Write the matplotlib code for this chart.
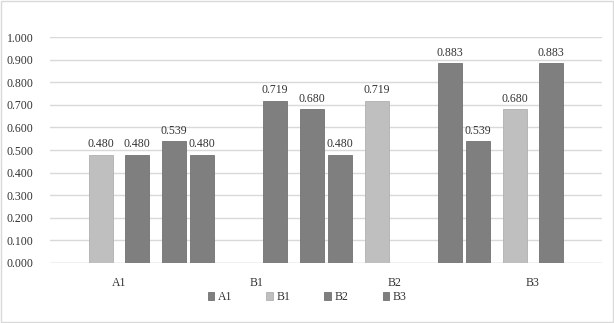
import numpy as np
import matplotlib.pyplot as plt
from matplotlib.patches import Rectangle

categories = ['A1', 'B1', 'B2', 'B3']
series_names = ['A1', 'B1', 'B2', 'B3']
# values per series over the categories (nan = no bar)
a1_vals = [0.480, 0.719, np.nan, 0.883]
b1_vals = [0.480, np.nan, 0.719, 0.680]
b2_vals = [0.539, 0.680, 0.883, np.nan]
b3_vals = [0.480, 0.480, 0.539, np.nan]
y_ticks = [0.0, 0.1, 0.2, 0.3, 0.4, 0.5, 0.6, 0.7, 0.8, 0.9, 1.0]

plt.rcParams['font.family'] = ['Liberation Serif', 'DejaVu Serif']
plt.rcParams['font.size'] = 8.5

fig = plt.figure(figsize=(6.14, 3.23), dpi=100)
ax = fig.add_axes([0.0814, 0.1858, 0.899, 0.6996])

dark = '#7f7f7f'
light = '#bfbfbf'
txt = '#333333'
series = [
	(a1_vals, 0.130, dark, '#727272'),
	(b1_vals, -0.130, light, '#b0b0b0'),
	(b2_vals, 0.399, dark, '#727272'),
	(b3_vals, 0.601, dark, '#727272'),
]

x = np.arange(len(categories))
width = 0.175
for name, (vals, off, col, edge) in zip(series_names, series):
	bars = ax.bar(x + off, vals, width, color=col, edgecolor=edge, linewidth=0.6, label=name, zorder=3)
	ax.bar_label(bars, labels=['' if np.isnan(v) else '{:.3f}'.format(v) for v in vals],
		padding=3, fontsize=8.5, color=txt)

ax.set_xlim(-0.5, len(categories) - 0.5)
ax.set_ylim(0, 1.0)
ax.set_yticks(y_ticks)
ax.set_yticklabels(['{:.3f}'.format(t) for t in y_ticks], color=txt)
ax.set_xticks(x)
ax.set_xticklabels(categories, color=txt)
ax.tick_params(axis='both', length=0, labelsize=8.5)
ax.tick_params(axis='y', pad=12)
ax.tick_params(axis='x', pad=10)
ax.yaxis.grid(True, color='#d9d9d9', linewidth=1, zorder=0)
for s in ax.spines.values():
	s.set_visible(False)
ax.axhline(0, color='#d9d9d9', linewidth=1, zorder=1)

handles, labels = ax.get_legend_handles_labels()
fig.legend(handles, labels, loc='center', bbox_to_anchor=(0.5, 0.08), ncol=4, frameon=False,
	fontsize=8.5, handlelength=0.55, handleheight=0.55, handletextpad=0.3, columnspacing=2.9, labelcolor=txt)

fig.add_artist(Rectangle((0.001, 0.002), 0.997, 0.995, transform=fig.transFigure,
	fill=False, edgecolor='#d9d9d9', linewidth=1))

fig.savefig('out.png', dpi=100)
